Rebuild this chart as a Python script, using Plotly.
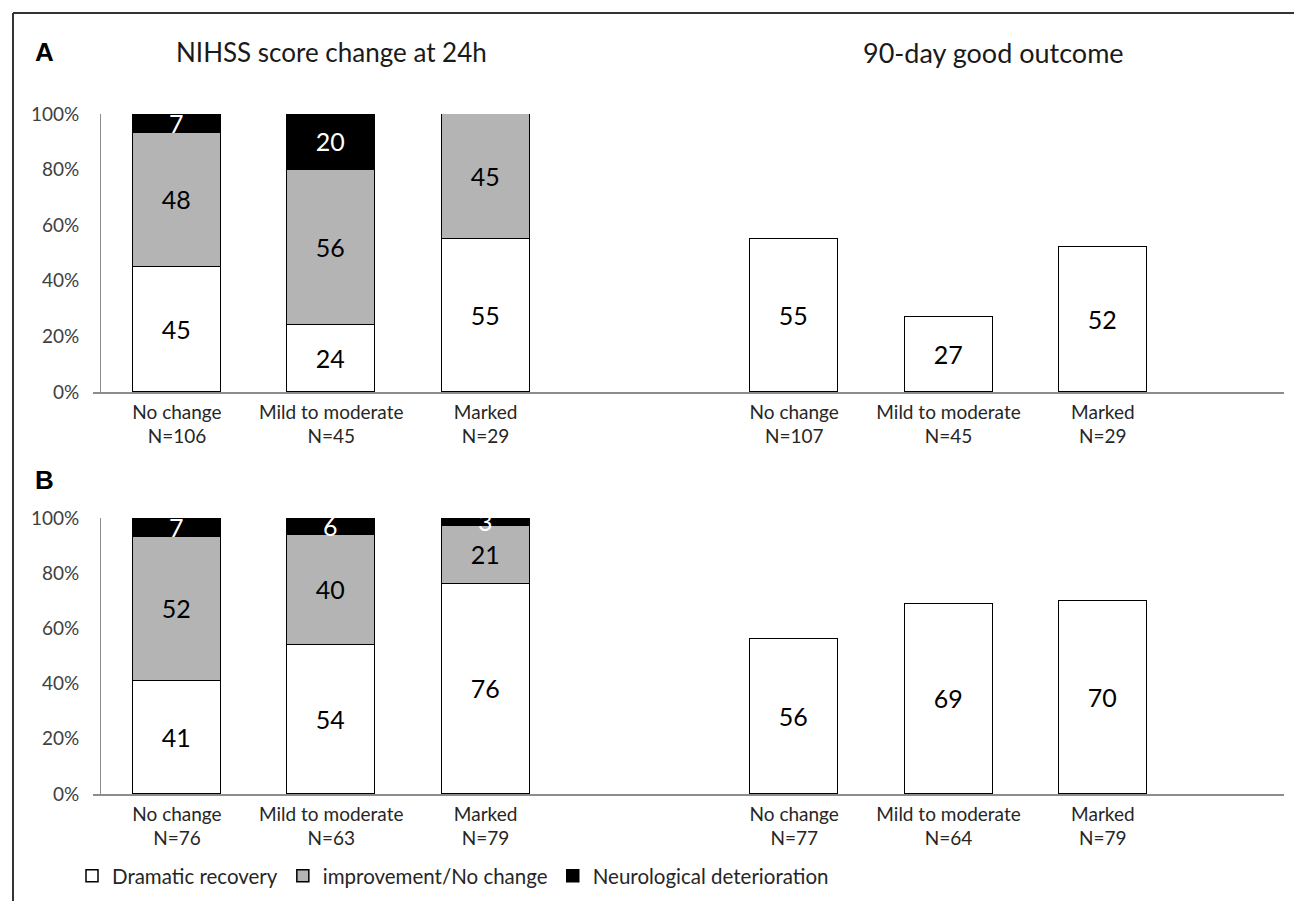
import plotly.graph_objects as go

# ---- data ----
slots_left = [0, 1, 2]
slots_right = [4, 5, 6]
cat_labels = ["No change", "Mild to moderate", "Marked"]
n_A_24h = [106, 45, 29]
n_A_90d = [107, 45, 29]
n_B_24h = [76, 63, 79]
n_B_90d = [77, 64, 79]

A_dramatic = [45, 24, 55]
A_improve = [48, 56, 45]
A_deter = [7, 20, 0]
A_good = [55, 27, 52]

B_dramatic = [41, 54, 76]
B_improve = [52, 40, 21]
B_deter = [7, 6, 3]
B_good = [56, 69, 70]

y_ticks = [0, 20, 40, 60, 80, 100]
series_names = ["Dramatic recovery", "improvement/No change", "Neurological deterioration"]

# ---- style ----
W, H = 1294, 901
FONT = "Lato, Carlito, Calibri, sans-serif"
WHITE, GRAY, BLACK = "#ffffff", "#b4b4b4", "#000000"
AXIS = "#8c8c8c"
TXT = "#262626"
BAR_W = 0.57
NUM_SIZE = 25
TICK_SIZE = 19

def lbl(v):
    return [str(x) if x else "" for x in v]

fig = go.Figure()

def add_panel(xa, ya, dram, imp, det, good, legend):
    for vals, col, tcol, name in [(dram, WHITE, BLACK, series_names[0]),
                                  (imp, GRAY, BLACK, series_names[1]),
                                  (det, BLACK, WHITE, series_names[2])]:
        fig.add_trace(go.Bar(
            x=slots_left, y=vals, width=BAR_W, name=name,
            marker=dict(color=col, line=dict(color="#000000", width=1.5)),
            text=lbl(vals), textposition="inside", insidetextanchor="middle", textangle=0,
            textfont=dict(family=FONT, size=NUM_SIZE, color=tcol),
            showlegend=legend, legendgroup=name,
            xaxis=xa, yaxis=ya, hoverinfo="skip"))
    fig.add_trace(go.Bar(
        x=slots_right, y=good, width=BAR_W, name="90-day good outcome",
        marker=dict(color=WHITE, line=dict(color="#000000", width=1.5)),
        text=lbl(good), textposition="inside", insidetextanchor="middle", textangle=0,
        textfont=dict(family=FONT, size=NUM_SIZE, color=BLACK),
        showlegend=False, xaxis=xa, yaxis=ya, hoverinfo="skip"))

add_panel("x", "y", A_dramatic, A_improve, A_deter, A_good, True)
add_panel("x2", "y2", B_dramatic, B_improve, B_deter, B_good, False)

def ticktext(n24, n90):
    return ([f"{c}<br>N={n}" for c, n in zip(cat_labels, n24)] +
            [f"{c}<br>N={n}" for c, n in zip(cat_labels, n90)])

x_dom = [93 / W, 1284 / W]
x_rng = [-0.544, 7.174]
xcommon = dict(domain=x_dom, range=x_rng, showline=True, linecolor=AXIS, linewidth=1.5,
               showgrid=False, zeroline=False, ticks="", automargin=False,
               tickvals=slots_left + slots_right,
               tickfont=dict(family=FONT, size=TICK_SIZE, color=TXT), ticklabelstandoff=2)
ycommon = dict(range=[0, 100], tickvals=y_ticks, ticktext=[f"{t}%" for t in y_ticks],
               showline=True, linecolor=AXIS, linewidth=1, showgrid=False, zeroline=False,
               ticks="", automargin=False, anchor="free", position=100 / W,
               tickfont=dict(family=FONT, size=TICK_SIZE, color="#404040"), ticklabelstandoff=17)

fig.update_layout(
    width=W, height=H, margin=dict(l=0, r=0, t=0, b=0),
    template="none", paper_bgcolor="white", plot_bgcolor="rgba(0,0,0,0)",
    barmode="stack", bargap=0,
    uniformtext=dict(minsize=NUM_SIZE, mode="show"),
    xaxis=dict(**xcommon, anchor="y", ticktext=ticktext(n_A_24h, n_A_90d)),
    yaxis=dict(**ycommon, domain=[1 - 392 / H, 1 - 114 / H]),
    xaxis2=dict(**xcommon, anchor="y2", ticktext=ticktext(n_B_24h, n_B_90d)),
    yaxis2=dict(**ycommon, domain=[1 - 794 / H, 1 - 518 / H]),
    legend=dict(orientation="h", x=72 / W, y=1 - 876 / H, xanchor="left", yanchor="middle",
                font=dict(family=FONT, size=20.5, color=TXT), bgcolor="rgba(0,0,0,0)",
                traceorder="normal", itemwidth=30, tracegroupgap=14),
    showlegend=True,
)

fig.add_annotation(text="<b>A</b>", xref="paper", yref="paper", x=33 / W, y=1 - 52 / H,
                   xanchor="left", yanchor="middle", showarrow=False,
                   font=dict(family="Liberation Sans, Arial", size=26, color="#000"))
fig.add_annotation(text="<b>B</b>", xref="paper", yref="paper", x=33 / W, y=1 - 480 / H,
                   xanchor="left", yanchor="middle", showarrow=False,
                   font=dict(family="Liberation Sans, Arial", size=26, color="#000"))
fig.add_annotation(text="NIHSS score change at 24h", xref="paper", yref="paper",
                   x=174 / W, y=1 - 52 / H, xanchor="left", yanchor="middle", showarrow=False,
                   font=dict(family=FONT, size=26, color="#1a1a1a"))
fig.add_annotation(text="90-day good outcome", xref="paper", yref="paper",
                   x=861 / W, y=1 - 52 / H, xanchor="left", yanchor="middle", showarrow=False,
                   font=dict(family=FONT, size=27, color="#1a1a1a"))

# figure frame (top and left edges)
fig.add_shape(type="line", xref="paper", yref="paper", x0=13 / W, x1=1, y0=1 - 13 / H, y1=1 - 13 / H,
              line=dict(color="#333333", width=2))
fig.add_shape(type="line", xref="paper", yref="paper", x0=13 / W, x1=13 / W, y0=0, y1=1 - 13 / H,
              line=dict(color="#333333", width=2))

fig.write_html("out.html")
